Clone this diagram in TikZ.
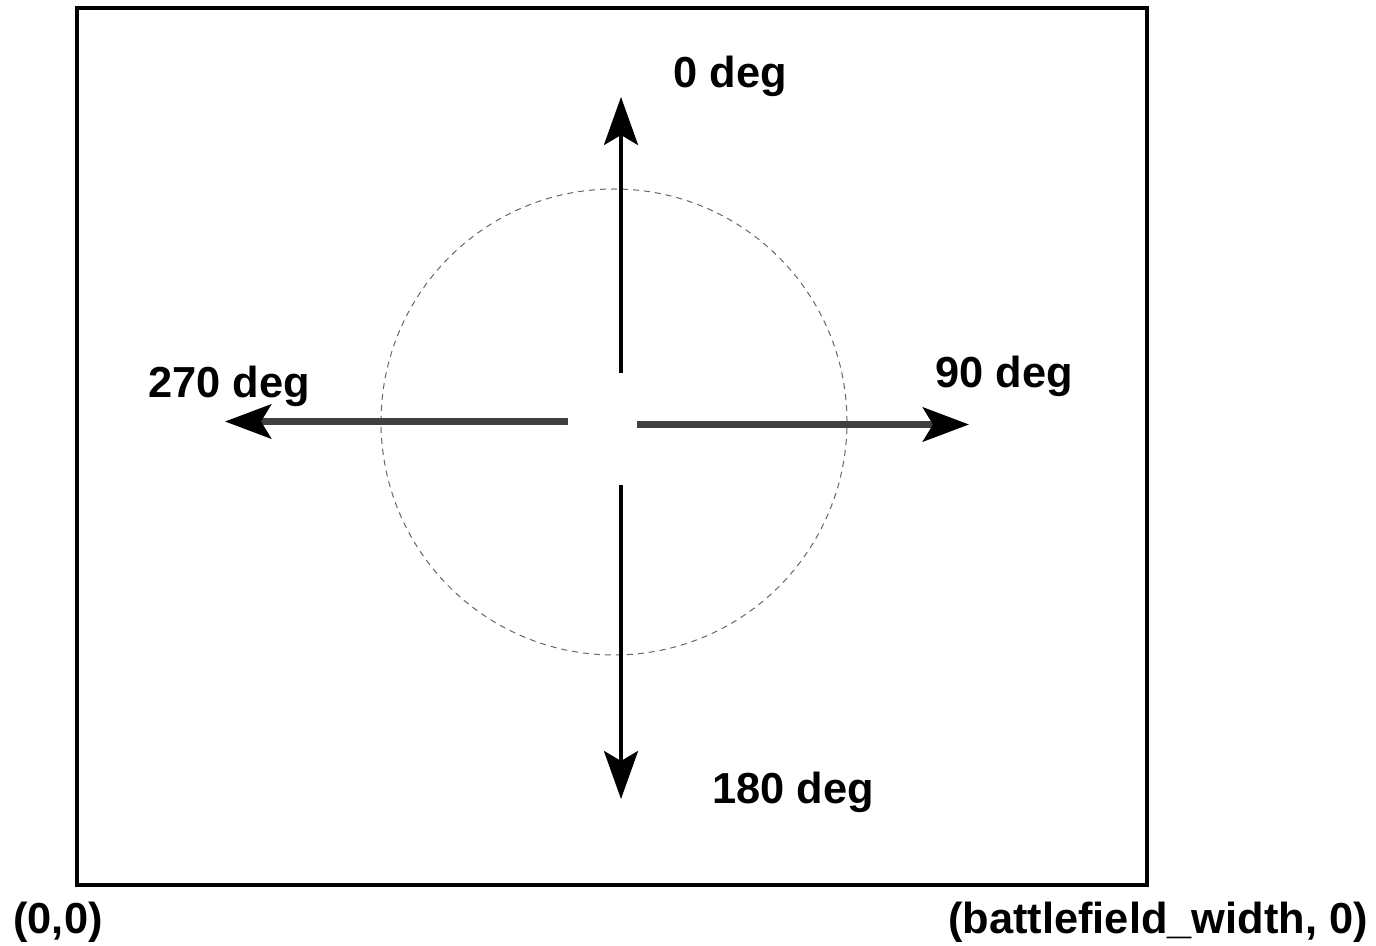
\documentclass[tikz,border=0pt]{standalone}
\usepackage{fontspec}
\setmainfont{Liberation Sans}
\usetikzlibrary{arrows.meta, positioning, calc}
\tikzset{
    frame/.style = {draw=black, line width=2pt},
    heading/.style = {dashed, draw=black!60, line width=0.5pt, dash pattern=on 3pt off 2.5pt},
    degtext/.style = {font=\fontsize{21.7}{25}\selectfont\bfseries, inner sep=0pt},
    corner/.style = {font=\fontsize{21.7}{25}\selectfont\bfseries, inner sep=0pt},
    vertarrow/.style = {line width=2pt, black, -{Stealth[length=24pt, width=17pt, inset=5pt]}},
    horzarrow/.style = {line width=3.5pt, black!75, -{Stealth[length=23pt, width=17pt, inset=5pt, color=black]}}
}
\begin{document}
\begin{tikzpicture}[x=0.5pt, y=-0.5pt]
\useasboundingbox (0,0) rectangle (1376,946);
\draw [frame] (77,8) rectangle (1147,885);

\node (orbit) [heading, circle, minimum size=233pt, inner sep=0pt] at (614,422) {};

\coordinate (upstart) at (621,373);
\coordinate (uptip) at (621,97);
\coordinate (downstart) at (621,485);
\coordinate (downtip) at (621,799);
\coordinate (leftstart) at (568,421.5);
\coordinate (lefttip) at (225,421.5);
\coordinate (rightstart) at (637,424.5);
\coordinate (righttip) at (969,424.5);

\node (north) [degtext] at (730,76) {0 deg};
\node (east) [degtext] at (1004,376) {90 deg};
\node (south) [degtext] at (793,792) {180 deg};
\node (west) [degtext] at (229,386) {270 deg};

\node (origin) [corner] at (58,922) {(0,0)};
\node (width) [corner] at (1158,922) {(battlefield\_width, 0)};

\draw [vertarrow] (upstart) -- (uptip);
\draw [vertarrow] (downstart) -- (downtip);
\draw [horzarrow] (leftstart) -- (lefttip);
\draw [horzarrow] (rightstart) -- (righttip);
\end{tikzpicture}
\end{document}
